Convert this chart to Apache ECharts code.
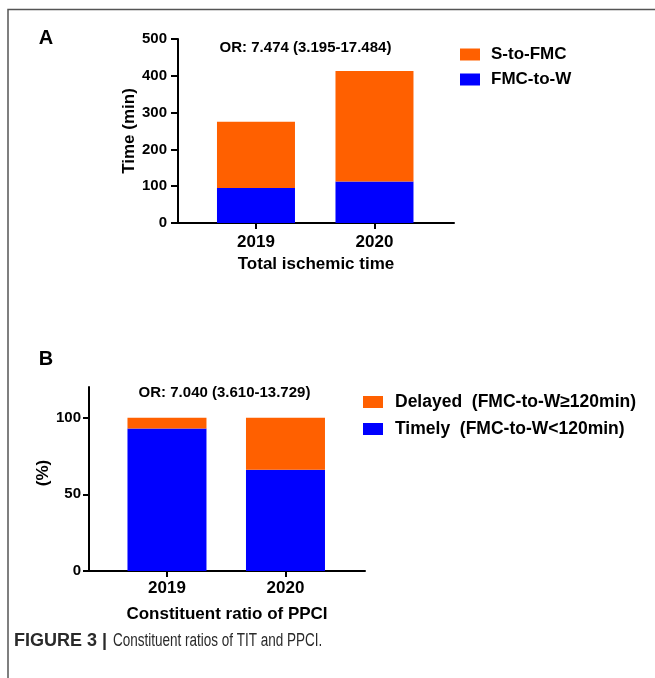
<!DOCTYPE html>
<html>
<head>
<meta charset="utf-8">
<script src="https://cdn.jsdelivr.net/npm/echarts@6/dist/echarts.min.js"></script>
<style>
html,body{margin:0;padding:0;background:#fff;}
#chart{width:655px;height:678px;}
</style>
</head>
<body>
<div id="chart"></div>
<script>
// ---- data ----
const years = ['2019', '2020'];
// Panel A: total ischemic time (min)
const fmcToW = [95, 113];
const sToFmc = [180, 300];
const yTicksA = [0, 100, 200, 300, 400, 500];
// Panel B: constituent ratio of PPCI (%)
const timely = [93, 66];
const delayed = [7, 34];
const yTicksB = [0, 50, 100];

const FONT = "'Liberation Sans', Arial, Helvetica, sans-serif";
const ORANGE = '#FF6000';
const BLUE = '#0000FF';
const catPos = years.map((_, i) => i + 1);
// value first, category position second (so the stack is applied to the value dimension)
const toPts = arr => arr.map((v, i) => [v, catPos[i]]);

function xAxisCfg(grid, name, labelMargin, nameGap) {
  return {
    gridIndex: grid, type: 'value', min: 0.342, max: 2.671,
    axisLine: { show: true, onZero: false, lineStyle: { color: '#000', width: 2 } },
    axisTick: { show: true, customValues: catPos, length: 6, lineStyle: { color: '#000', width: 2 } },
    axisLabel: { customValues: catPos, formatter: v => years[Math.round(v) - 1] || '', margin: labelMargin,
      fontSize: 17, fontWeight: 'bold', color: '#000', fontFamily: FONT },
    splitLine: { show: false },
    name: name, nameLocation: 'middle', nameGap: nameGap,
    nameTextStyle: { fontSize: 17, fontWeight: 'bold', color: '#000', fontFamily: FONT }
  };
}

function barSeries(name, gi, stack, color, width, arr) {
  return { type: 'bar', name: name, xAxisIndex: gi, yAxisIndex: gi, stack: stack, barWidth: width,
    encode: { x: 1, y: 0 }, itemStyle: { color: color }, data: toPts(arr) };
}

const option = {
  animation: false,
  backgroundColor: '#fff',
  grid: [
    { left: 178, top: 39, width: 276, height: 184 },
    { left: 89, top: 387, width: 276, height: 184 }
  ],
  xAxis: [
    xAxisCfg(0, 'Total ischemic time', 11, 33),
    xAxisCfg(1, 'Constituent ratio of PPCI', 9, 35)
  ],
  yAxis: [
    {
      gridIndex: 0, type: 'value', min: yTicksA[0], max: yTicksA[yTicksA.length - 1],
      axisLine: { show: true, onZero: false, lineStyle: { color: '#000', width: 2 } },
      axisTick: { show: true, customValues: yTicksA, length: 7, lineStyle: { color: '#000', width: 2 } },
      axisLabel: { customValues: yTicksA, margin: 11, fontSize: 15, fontWeight: 'bold', color: '#000', fontFamily: FONT },
      splitLine: { show: false },
      name: 'Time (min)', nameLocation: 'middle', nameGap: 38,
      nameTextStyle: { fontSize: 17, fontWeight: 'bold', color: '#000', fontFamily: FONT }
    },
    {
      gridIndex: 1, type: 'value', min: 0, max: 120,
      axisLine: { show: true, onZero: false, lineStyle: { color: '#000', width: 2 } },
      axisTick: { show: true, customValues: yTicksB, length: 6, lineStyle: { color: '#000', width: 2 } },
      axisLabel: { customValues: yTicksB, margin: 8, fontSize: 15, fontWeight: 'bold', color: '#000', fontFamily: FONT },
      splitLine: { show: false },
      name: '(%)', nameLocation: 'middle', nameGap: 36,
      nameTextStyle: { fontSize: 17, fontWeight: 'bold', color: '#000', fontFamily: FONT, padding: [0, 0, 0, 12] }
    }
  ],
  legend: [
    {
      data: ['S-to-FMC', 'FMC-to-W'], orient: 'vertical', left: 455, top: 41,
      icon: 'rect', itemWidth: 20, itemHeight: 12, itemGap: 8, selectedMode: false,
      textStyle: { fontSize: 17, fontWeight: 'bold', color: '#000', fontFamily: FONT, padding: [0, 0, 0, 6] }
    },
    {
      data: ['Delayed  (FMC-to-W≥120min)', 'Timely  (FMC-to-W<120min)'], orient: 'vertical', left: 358, top: 388,
      icon: 'rect', itemWidth: 20, itemHeight: 12, itemGap: 9, selectedMode: false,
      textStyle: { fontSize: 17.5, fontWeight: 'bold', color: '#000', fontFamily: FONT, padding: [0, 0, 0, 7] }
    }
  ],
  series: [
    barSeries('FMC-to-W', 0, 'A', BLUE, 78, fmcToW),
    barSeries('S-to-FMC', 0, 'A', ORANGE, 78, sToFmc),
    barSeries('Timely  (FMC-to-W<120min)', 1, 'B', BLUE, 79, timely),
    barSeries('Delayed  (FMC-to-W≥120min)', 1, 'B', ORANGE, 79, delayed)
  ],
  graphic: [
    { type: 'polyline', shape: { points: [[8, 678], [8, 9.5], [655, 9.5]] },
      style: { stroke: '#555', lineWidth: 1.5, fill: null } },
    { type: 'text', x: 46, y: 38, style: { text: 'A', fontSize: 20, fontWeight: 'bold', fill: '#000', fontFamily: FONT, align: 'center', verticalAlign: 'middle' } },
    { type: 'text', x: 46, y: 359, style: { text: 'B', fontSize: 20, fontWeight: 'bold', fill: '#000', fontFamily: FONT, align: 'center', verticalAlign: 'middle' } },
    { type: 'text', x: 305.5, y: 48, style: { text: 'OR: 7.474 (3.195-17.484)', fontSize: 15, fontWeight: 'bold', fill: '#000', fontFamily: FONT, align: 'center', verticalAlign: 'middle' } },
    { type: 'text', x: 224.5, y: 393, style: { text: 'OR: 7.040 (3.610-13.729)', fontSize: 15, fontWeight: 'bold', fill: '#000', fontFamily: FONT, align: 'center', verticalAlign: 'middle' } },
    { type: 'text', x: 14, y: 641, style: { text: 'FIGURE 3 |', fontSize: 18, fontWeight: 'bold', fill: '#2a2a2a', fontFamily: FONT, align: 'left', verticalAlign: 'middle' } },
    { type: 'text', x: 113, y: 641, scaleX: 0.75, style: { text: 'Constituent ratios of TIT and PPCI.', fontSize: 18, fill: '#2a2a2a', fontFamily: FONT, align: 'left', verticalAlign: 'middle' } }
  ]
};

const chart = echarts.init(document.getElementById('chart'), null, { renderer: 'canvas' });
chart.setOption(option);
</script>
</body>
</html>
